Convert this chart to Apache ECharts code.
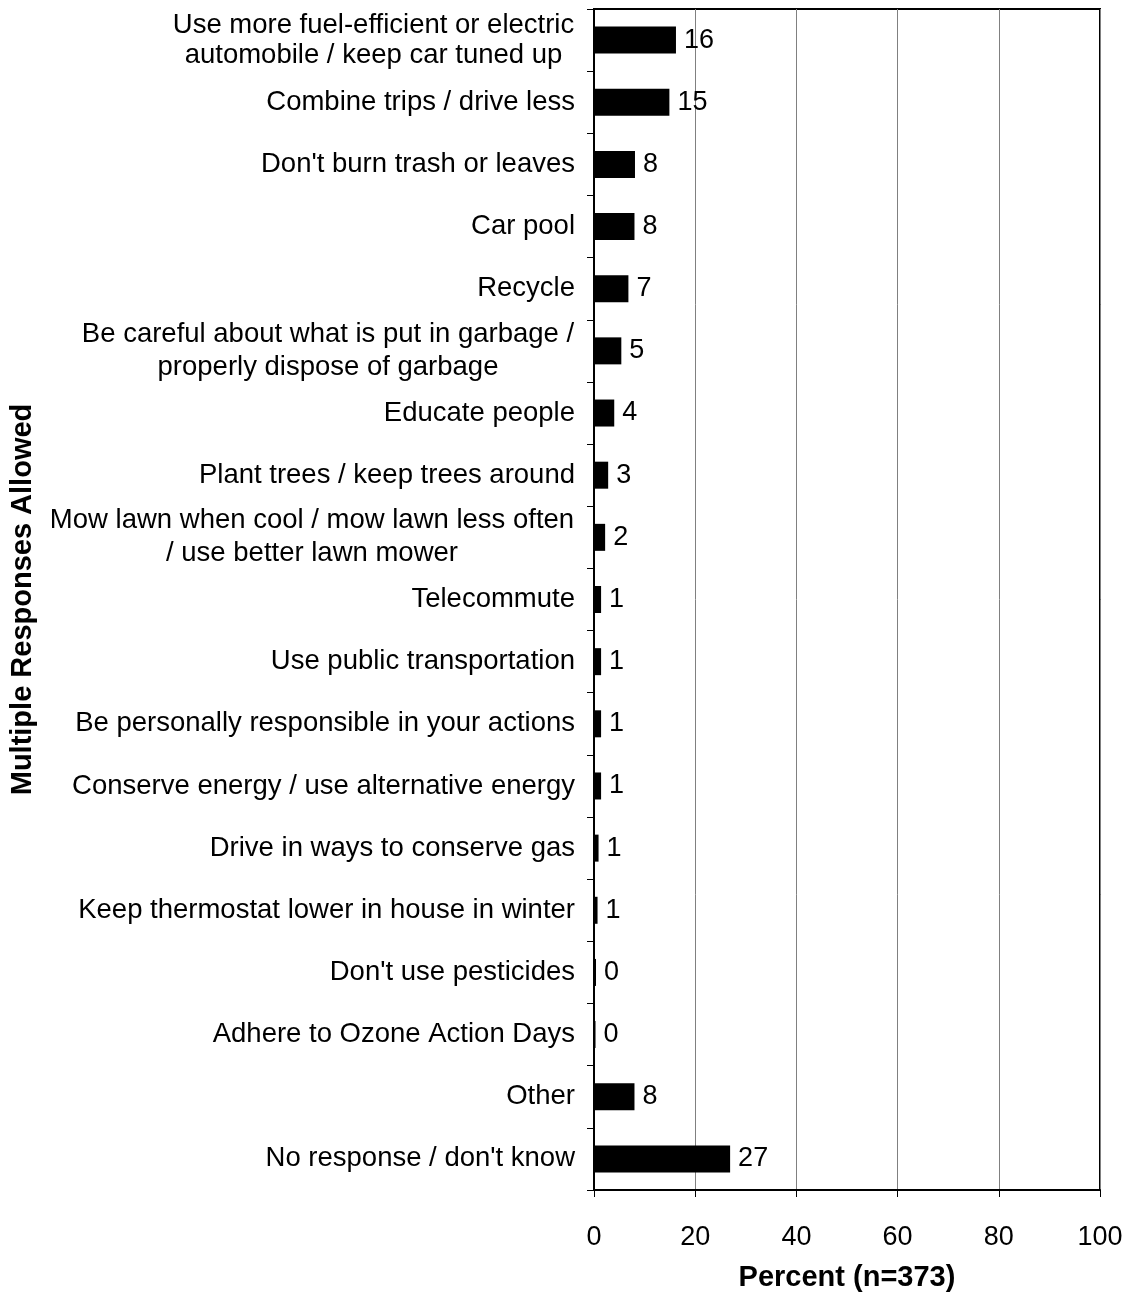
<!DOCTYPE html>
<html>
<head>
<meta charset="utf-8">
<script src="https://cdn.jsdelivr.net/npm/echarts@6/dist/echarts.min.js"></script>
<style>html,body{margin:0;padding:0;background:#fff}#c{width:1130px;height:1300px}</style>
</head>
<body>
<div id="c"></div>
<script>
const categories = [
  "Use more fuel-efficient or electric\nautomobile / keep car tuned up",
  "Combine trips / drive less",
  "Don't burn trash or leaves",
  "Car pool",
  "Recycle",
  "Be careful about what is put in garbage /\nproperly dispose of garbage",
  "Educate people",
  "Plant trees / keep trees around",
  "Mow lawn when cool / mow lawn less often\n/ use better lawn mower",
  "Telecommute",
  "Use public transportation",
  "Be personally responsible in your actions",
  "Conserve energy / use alternative energy",
  "Drive in ways to conserve gas",
  "Keep thermostat lower in house in winter",
  "Don't use pesticides",
  "Adhere to Ozone Action Days",
  "Other",
  "No response / don't know"
];
const values = [16.2, 14.9, 8.1, 8.0, 6.8, 5.4, 4.0, 2.8, 2.2, 1.4, 1.4, 1.4, 1.4, 0.9, 0.7, 0.4, 0.3, 8.0, 26.9];
const valueTicks = [0, 20, 40, 60, 80, 100];
const xAxisTitle = "Percent (n=373)";
const yAxisTitle = "Multiple Responses Allowed";

const FONT = "Liberation Sans, Arial, sans-serif";
const LABEL_SIZE = 27.5;
const ctx = document.createElement('canvas').getContext('2d');
ctx.font = LABEL_SIZE + 'px "Liberation Sans", Arial, sans-serif';
const rich = {};
categories.forEach((c, i) => {
  const lines = c.split('\n');
  if (lines.length > 1) {
    const w = Math.ceil(Math.max(...lines.map(l => ctx.measureText(l).width))) + 1;
    rich['c' + i] = {width: w, align: 'center', fontFamily: FONT, fontSize: LABEL_SIZE, color: '#000',
      lineHeight: i === 0 ? 30 : 33};
  }
});

const chart = echarts.init(document.getElementById('c'), null, {renderer: 'canvas'});
chart.setOption({
  animation: false,
  backgroundColor: '#fff',
  grid: {left: 594, right: 30, top: 9, bottom: 110, show: true, borderColor: '#000', borderWidth: 2},
  xAxis: {
    type: 'value', min: valueTicks[0], max: valueTicks[valueTicks.length - 1], interval: 20,
    name: xAxisTitle, nameLocation: 'middle', nameGap: 73,
    nameTextStyle: {fontFamily: FONT, fontSize: 29, fontWeight: 'bold', color: '#000'},
    axisLine: {show: true, lineStyle: {color: '#000', width: 2}},
    axisTick: {show: true, length: 7, lineStyle: {color: '#000'}},
    axisLabel: {fontFamily: FONT, fontSize: 27, color: '#000', margin: 34},
    splitLine: {show: true, lineStyle: {color: '#808080', width: 1}}
  },
  yAxis: {
    type: 'category', data: categories, inverse: true,
    name: yAxisTitle, nameLocation: 'middle', nameGap: 557, nameRotate: 90,
    nameTextStyle: {fontFamily: FONT, fontSize: 29, fontWeight: 'bold', color: '#000'},
    axisLine: {show: true, lineStyle: {color: '#000', width: 2}},
    axisTick: {show: true, length: 7, lineStyle: {color: '#000'}},
    axisLabel: {fontFamily: FONT, fontSize: LABEL_SIZE, color: '#000', margin: 19, lineHeight: 33, align: 'right',
      rich: rich,
      formatter: (v, i) => {
        const lines = v.split('\n');
        if (lines.length === 1) return v;
        return lines.map(l => '{c' + i + '|' + l + '}').join('\n');
      }},
    splitLine: {show: false}
  },
  series: [{
    type: 'bar', data: values, barWidth: 27,
    itemStyle: {color: '#000'},
    label: {show: true, position: 'right', distance: 8, fontFamily: FONT, fontSize: 27, color: '#000',
      formatter: p => String(Math.round(p.value))}
  }]
});
</script>
</body>
</html>
